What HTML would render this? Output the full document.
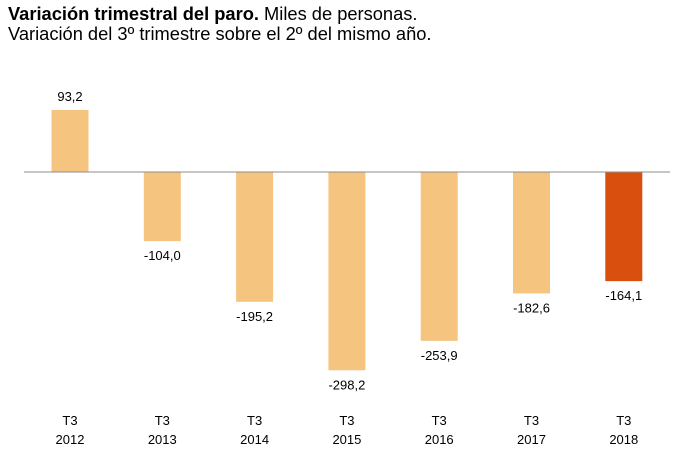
<!DOCTYPE html>
<html><head><meta charset="utf-8"><style>
body{margin:0;background:#fff;width:699px;height:472px;overflow:hidden;font-family:"Liberation Sans",sans-serif}
.t{position:absolute;left:8px;font-size:18.3px;color:#000;white-space:nowrap}
</style></head><body>
<div class="t" style="top:3px"><b>Variación trimestral del paro.</b> Miles de personas.</div>
<div class="t" style="top:23px">Variación del 3º trimestre sobre el 2º del mismo año.</div>
<svg id="c" width="699" height="472" style="position:absolute;left:0;top:0"></svg>
<script>
const years=["2012","2013","2014","2015","2016","2017","2018"];
const values=[93.2,-104.0,-195.2,-298.2,-253.9,-182.6,-164.1];
const labels=["93,2","-104,0","-195,2","-298,2","-253,9","-182,6","-164,1"];
const ns="http://www.w3.org/2000/svg";
const svg=document.getElementById('c');
const y0=172,k=0.665;
function y(v){return y0-v*k;}
function x(i){return 70+i*92.3;}
const bw=37;
function mk(t,a){const e=document.createElementNS(ns,t);for(const n in a)e.setAttribute(n,a[n]);svg.appendChild(e);return e;}
values.forEach((v,i)=>{
  const r=mk('rect',{x:x(i)-bw/2,y:Math.min(y(v),y0),width:bw,height:Math.abs(y(v)-y0),fill:i==values.length-1?'#D94F0E':'#F5C580'});
  
  
  const ly=v>=0?y(v)-9:y(v)+19;
  const t=mk('text',{x:x(i),y:ly,'text-anchor':'middle','font-size':'13','font-family':'Liberation Sans, sans-serif',fill:'#000'});
  t.textContent=labels[i];
  
  
  const a=mk('text',{x:x(i),y:425,'text-anchor':'middle','font-size':'13','font-family':'Liberation Sans, sans-serif',fill:'#000'});
  a.textContent='T3';
  
  
  const b=mk('text',{x:x(i),y:444,'text-anchor':'middle','font-size':'13','font-family':'Liberation Sans, sans-serif',fill:'#000'});
  b.textContent=years[i];
  
  
});
const l=mk('line',{x1:24,x2:670,y1:y0,y2:y0,stroke:'#8c8c8c','stroke-width':1});


</script>
</body></html>
